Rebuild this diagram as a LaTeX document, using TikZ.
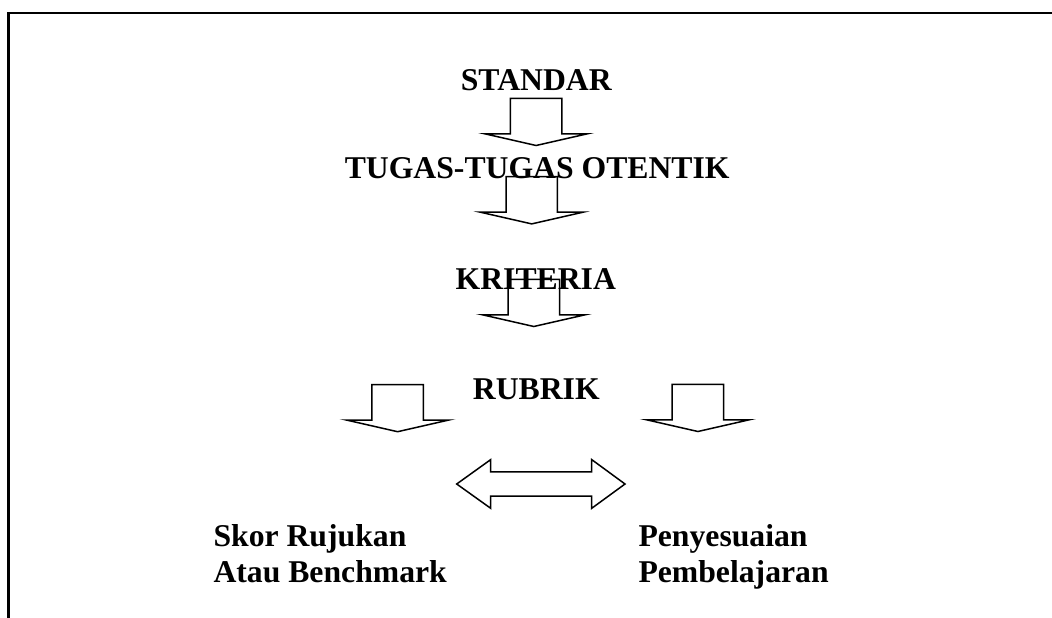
\documentclass[tikz,border=0pt]{standalone}
\usepackage{fontspec}
\setmainfont{Liberation Serif}
\usepackage{tikz}

\def\shafthalf{25.7}
\def\shaftlen{35.5}
\def\headhalf{51.3}
\def\headlen{11.7}
% down block arrow: #1 = centre x, #2 = top y
\newcommand{\blockdown}[2]{%
	\draw[blockline] ({#1-\shafthalf},#2) -- ++(0,\shaftlen) -- ({#1-\headhalf},{#2+\shaftlen})
	-- (#1,{#2+\shaftlen+\headlen}) -- ({#1+\headhalf},{#2+\shaftlen}) -- ({#1+\shafthalf},{#2+\shaftlen})
	-- ({#1+\shafthalf},#2) -- cycle;}

\begin{document}
\begin{tikzpicture}[x=1pt,y=-1pt,
		blockline/.style={line width=1.5pt, line join=miter},
		title/.style={font=\fontsize{31.7}{36.7}\selectfont\bfseries, inner sep=0},
	]
	\useasboundingbox (0,0) rectangle (1052,618);
	%% ========================================================
	\draw[line width=2.4pt, line join=miter] (8.3,618) -- (8.3,13) -- (1052,13);

	\node[title, anchor=base] (standar) at (536.3,90) {STANDAR};
	\node[title, anchor=base] (tugas) at (537.2,178.3) {TUGAS-TUGAS OTENTIK};
	\node[title, anchor=base] (kriteria) at (535.8,289.3) {KRITERIA};
	\node[title, anchor=base] (rubrik) at (536.3,399.3) {RUBRIK};

	\blockdown{536.1}{98.3}
	\blockdown{531.7}{176.7}
	\blockdown{533.8}{279.3}
	\blockdown{397.6}{384.5}
	\blockdown{697.9}{384.3}
	%% ========================================================

	%% ========================================================
	\begin{scope}% double block arrow
		\def\tipl{456.7}
		\def\tipr{625}
		\def\midy{484}
		\draw[blockline] (\tipl,\midy) -- (490.7,459.6) -- (490.7,471.9) -- (591.7,471.9) -- (591.7,459.6)
		-- (\tipr,\midy) -- (591.7,508.3) -- (591.7,496.2) -- (490.7,496.2) -- (490.7,508.3) -- cycle;
	\end{scope}

	\node[title, anchor=base west, align=left] (skor) at (213.3,582.7) {Skor Rujukan\\Atau Benchmark};
	\node[title, anchor=base west, align=left] (sesuai) at (638.3,582.7) {Penyesuaian\\Pembelajaran};
	%% ========================================================
\end{tikzpicture}
\end{document}
